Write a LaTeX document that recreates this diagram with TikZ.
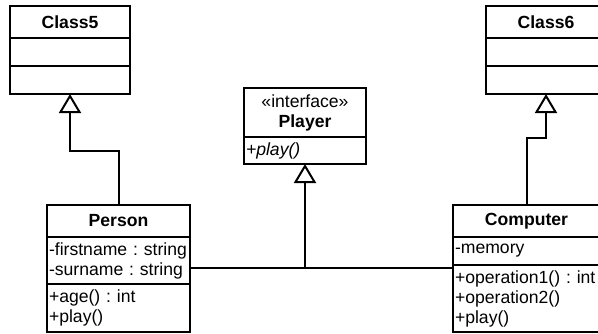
\documentclass[tikz,border=0pt]{standalone}
\usepackage{fontspec}
\setmainfont{Liberation Sans}
\usetikzlibrary{arrows.meta}
\usetikzlibrary{positioning}

\tikzset{
  umlbox/.style={draw,line width=1pt,rectangle,anchor=north west,inner xsep=1pt,inner ysep=0pt,
    outer sep=0pt,font=\fontsize{8.8}{10}\selectfont\frenchspacing},
  umlhead/.style={umlbox,align=center,font=\fontsize{8.8}{10}\selectfont\bfseries},
  umlbody/.style={umlbox,align=left},
  inherit/.style={-{Triangle[open,width=11pt,length=9.5pt]},line width=1pt}
}

\begin{document}
\begin{tikzpicture}[x=0.5pt,y=-0.5pt]
    \clip (0,0) rectangle (598,333);
    % Class5
    \node[umlhead,minimum width=60pt,text width=58pt,minimum height=16pt] (c5h) at (10,6)      {Class5};
    \node[umlbody,minimum width=60pt,text width=58pt,minimum height=14pt] (c5a) at (c5h.south west) {};
    \node[umlbody,minimum width=60pt,text width=58pt,minimum height=14pt] (c5o) at (c5a.south west) {};
    % Class6
    \node[umlhead,minimum width=60pt,text width=58pt,minimum height=16pt] (c6h) at (486,6)     {Class6};
    \node[umlbody,minimum width=60pt,text width=58pt,minimum height=14pt] (c6a) at (c6h.south west) {};
    \node[umlbody,minimum width=60pt,text width=58pt,minimum height=14pt] (c6o) at (c6a.south west) {};
    % Player
    \node[umlhead,minimum width=61pt,text width=59pt,minimum height=24.5pt] (plh) at (244,88)
        {{\mdseries «interface»}\\Player};
    \node[umlbody,minimum width=61pt,text width=59pt,minimum height=13.5pt] (plo) at (plh.south west)
        {\textit{+play()}};
    % Person
    \node[umlhead,minimum width=71.5pt,text width=69.5pt,minimum height=16pt] (peh) at (47,205) {Person};
    \node[umlbody,minimum width=71.5pt,text width=69.5pt,minimum height=23.5pt] (pea) at (peh.south west)
        {-firstname : string\\-surname : string};
    \node[umlbody,minimum width=71.5pt,text width=69.5pt,minimum height=24pt] (peo) at (pea.south west)
        {+age() : int\\+play()};
    % Computer
    \node[umlhead,minimum width=73.5pt,text width=71.5pt,minimum height=16pt] (coh) at (453,205) {Computer};
    \node[umlbody,minimum width=73.5pt,text width=71.5pt,minimum height=14pt] (coa) at (coh.south west)
        {-memory};
    \node[umlbody,minimum width=73.5pt,text width=71.5pt,minimum height=33.5pt] (coo) at (coa.south west)
        {+operation1() : int\\+operation2()\\+play()};
    % generalisations
    \coordinate (join) at (plo.south |- 0,268);
    \draw[inherit] (peh.north) -- ++(0,-54) -| (c5o.south);
    \draw[inherit] (coh.north) -- ++(0,-67) -| (c6o.south);
    \draw[line width=1pt] (pea.east |- join) -- (coa.west |- join);
    \draw[inherit] (join) -- (plo.south);
\end{tikzpicture}
\end{document}
